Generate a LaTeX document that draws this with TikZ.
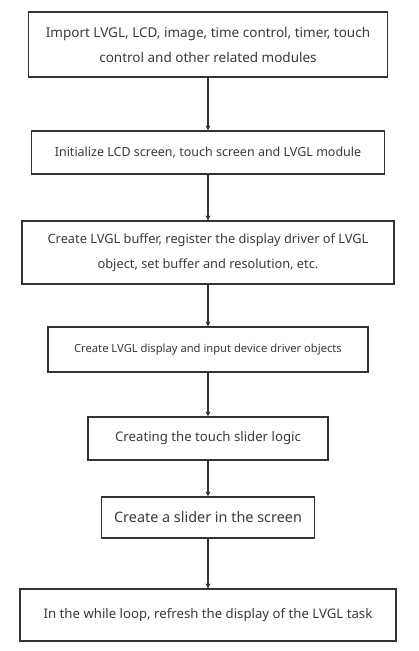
\documentclass[tikz,border=0pt]{standalone}
\usepackage{fontspec}
\setmainfont{Noto Sans}
\usetikzlibrary{arrows.meta}
\definecolor{ink}{HTML}{333333}
\definecolor{txt}{HTML}{3A3A3A}
\tikzset{
  stepbox/.style={draw=ink, line width=1.2pt, fill=white, align=center, text=txt, inner sep=0pt},
  flow/.style={draw=ink, line width=1.5pt, -{Stealth[length=5pt,width=5pt]}}
}
\begin{document}
\begin{tikzpicture}[x=1pt,y=-1pt]
\useasboundingbox (0,0) rectangle (419,651);
\node[stepbox, minimum width=359pt, minimum height=65pt, font=\fontsize{13.5}{25}\selectfont] (b1) at (208,44.5)
  {Import LVGL, LCD, image, time control, timer, touch\\control and other related modules};
\node[stepbox, minimum width=353pt, minimum height=43pt, font=\fontsize{12.5}{15}\selectfont] (b2) at (208,152.5)
  {Initialize LCD screen, touch screen and LVGL module};
\node[stepbox, minimum width=372pt, minimum height=63pt, font=\fontsize{12.8}{25}\selectfont] (b3) at (208,252.5)
  {Create LVGL buffer, register the display driver of LVGL\\object, set buffer and resolution, etc.};
\node[stepbox, minimum width=320pt, minimum height=45pt, font=\fontsize{11.2}{13}\selectfont] (b4) at (208,349.5)
  {Create LVGL display and input device driver objects};
\node[stepbox, minimum width=240pt, minimum height=43pt, font=\fontsize{13.2}{15}\selectfont] (b5) at (208,438.5)
  {Creating the touch slider logic};
\node[stepbox, minimum width=213pt, minimum height=41pt, font=\fontsize{14.4}{16}\selectfont] (b6) at (208,517.5)
  {Create a slider in the screen};
\node[stepbox, minimum width=376pt, minimum height=52pt, font=\fontsize{13.2}{15}\selectfont] (b7) at (208,615)
  {In the while loop, refresh the display of the LVGL task};
\draw[flow] (b1.south) -- (b2.north);
\draw[flow] (b2.south) -- (b3.north);
\draw[flow] (b3.south) -- (b4.north);
\draw[flow] (b4.south) -- (b5.north);
\draw[flow] (b5.south) -- (b6.north);
\draw[flow] (b6.south) -- (b7.north);
\end{tikzpicture}
\end{document}
